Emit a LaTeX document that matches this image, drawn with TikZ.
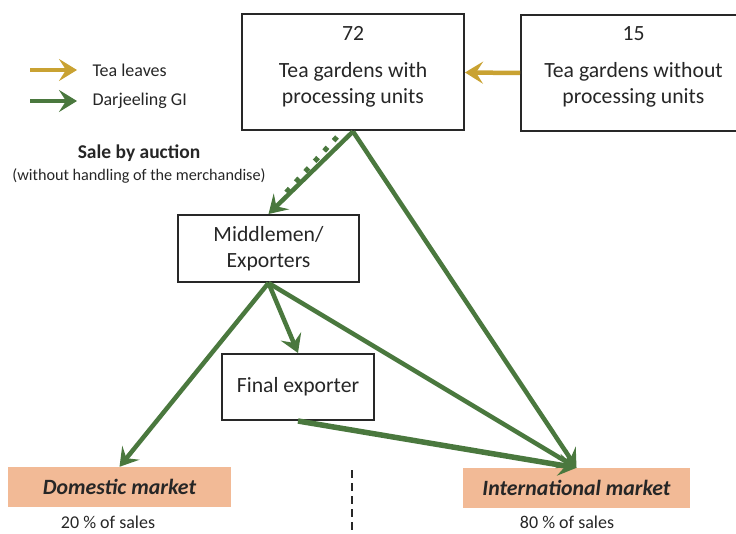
\documentclass[tikz,border=0pt]{standalone}
\usepackage{fontspec}
\setmainfont{Carlito}
\usetikzlibrary{arrows.meta}
\definecolor{gi}{RGB}{74,120,62}
\definecolor{leaf}{RGB}{201,162,50}
\definecolor{mkt}{RGB}{242,186,150}
\definecolor{edge}{RGB}{40,40,40}
\begin{document}
\begin{tikzpicture}[x=1pt,y=-1pt,
  box/.style={draw=edge,line width=2pt,inner sep=0pt,align=center,font=\fontsize{21.7}{26}\selectfont,text=black!85},
  boxtext/.style={inner sep=0pt,align=center,font=\fontsize{21.7}{26}\selectfont,text=black!85},
  market/.style={fill=mkt,inner sep=0pt,font=\fontsize{21.8}{24}\selectfont\bfseries\itshape,text=black!85},
  small/.style={font=\fontsize{18}{21}\selectfont,text=black!85},
  giarrow/.style={draw=gi,line width=4.5pt,-{Stealth[length=18pt,width=22pt,inset=7pt]}},
  leafarrow/.style={draw=leaf,line width=4.5pt,-{Stealth[length=18pt,width=22pt,inset=7pt]}}]
\useasboundingbox (0,0) rectangle (736,534);
% boxes
\node[box,minimum width=222pt,minimum height=116pt] (tg) at (353,72.5) {};
\node[boxtext] (tgt) at (353,66.5) {72\\[11pt]Tea gardens with\\processing units};
\node[box,minimum width=225pt,minimum height=116pt] (tw) at (633.5,73) {};
\node[boxtext] (twt) at (633.5,66.5) {15\\[11pt]Tea gardens without\\processing units};
\node[box,minimum width=181pt,minimum height=67pt] (mid) at (268.5,248.5) {Middlemen/\\Exporters};
\node[box,minimum width=152pt,minimum height=66pt] (fe) at (298,387) {Final exporter};
\node[market,minimum width=223pt,minimum height=40pt] (dom) at (119.5,487) {Domestic market};
\node[market,minimum width=227pt,minimum height=40pt] (int) at (576.5,488) {International market};
\node[small] (dp) at (108,522) {20 \% of sales};
\node[small] (ip) at (567,522) {80 \% of sales};
% legend
\coordinate (l1a) at (30,70); \coordinate (l1b) at (77,70);
\coordinate (l2a) at (30,101); \coordinate (l2b) at (77,101);
\draw[leafarrow] (l1a) -- (l1b);
\draw[giarrow] (l2a) -- (l2b);
\node[anchor=west,font=\fontsize{18}{20}\selectfont,text=black!85] (lt1) at (89,70) {Tea leaves};
\node[anchor=west,font=\fontsize{18}{20}\selectfont,text=black!85] (lt2) at (89,101) {Darjeeling GI};
% auction label
\node[font=\fontsize{19.5}{22}\selectfont\bfseries,text=black!85] (sa) at (139,153) {Sale by auction};
\node[font=\fontsize{16.2}{19}\selectfont,text=black!85] (sw) at (139,176) {(without handling of the merchandise)};
% divider
\coordinate (dv1) at (352,470); \coordinate (dv2) at (352,534);
\draw[edge,line width=2.5pt,dash pattern=on 8pt off 5pt] (dv1) -- (dv2);
% connectors
\draw[leafarrow] (tw.west) -- (tg.east);
\coordinate (dt1) at (337,137); \coordinate (dt2) at (281,198);
\draw[gi,line width=5pt,dash pattern=on 5pt off 9pt] (dt1) -- (dt2);
\draw[giarrow] (tg.south) -- (mid.north);
\draw[giarrow] (tg.south) -- (int.north);
\draw[giarrow] (mid.south) -- (dom.north);
\draw[giarrow] (mid.south) -- (fe.north);
\draw[giarrow] (mid.south) -- (int.north);
\draw[giarrow,line width=5.5pt] (fe.south) -- (int.north);
\end{tikzpicture}
\end{document}
